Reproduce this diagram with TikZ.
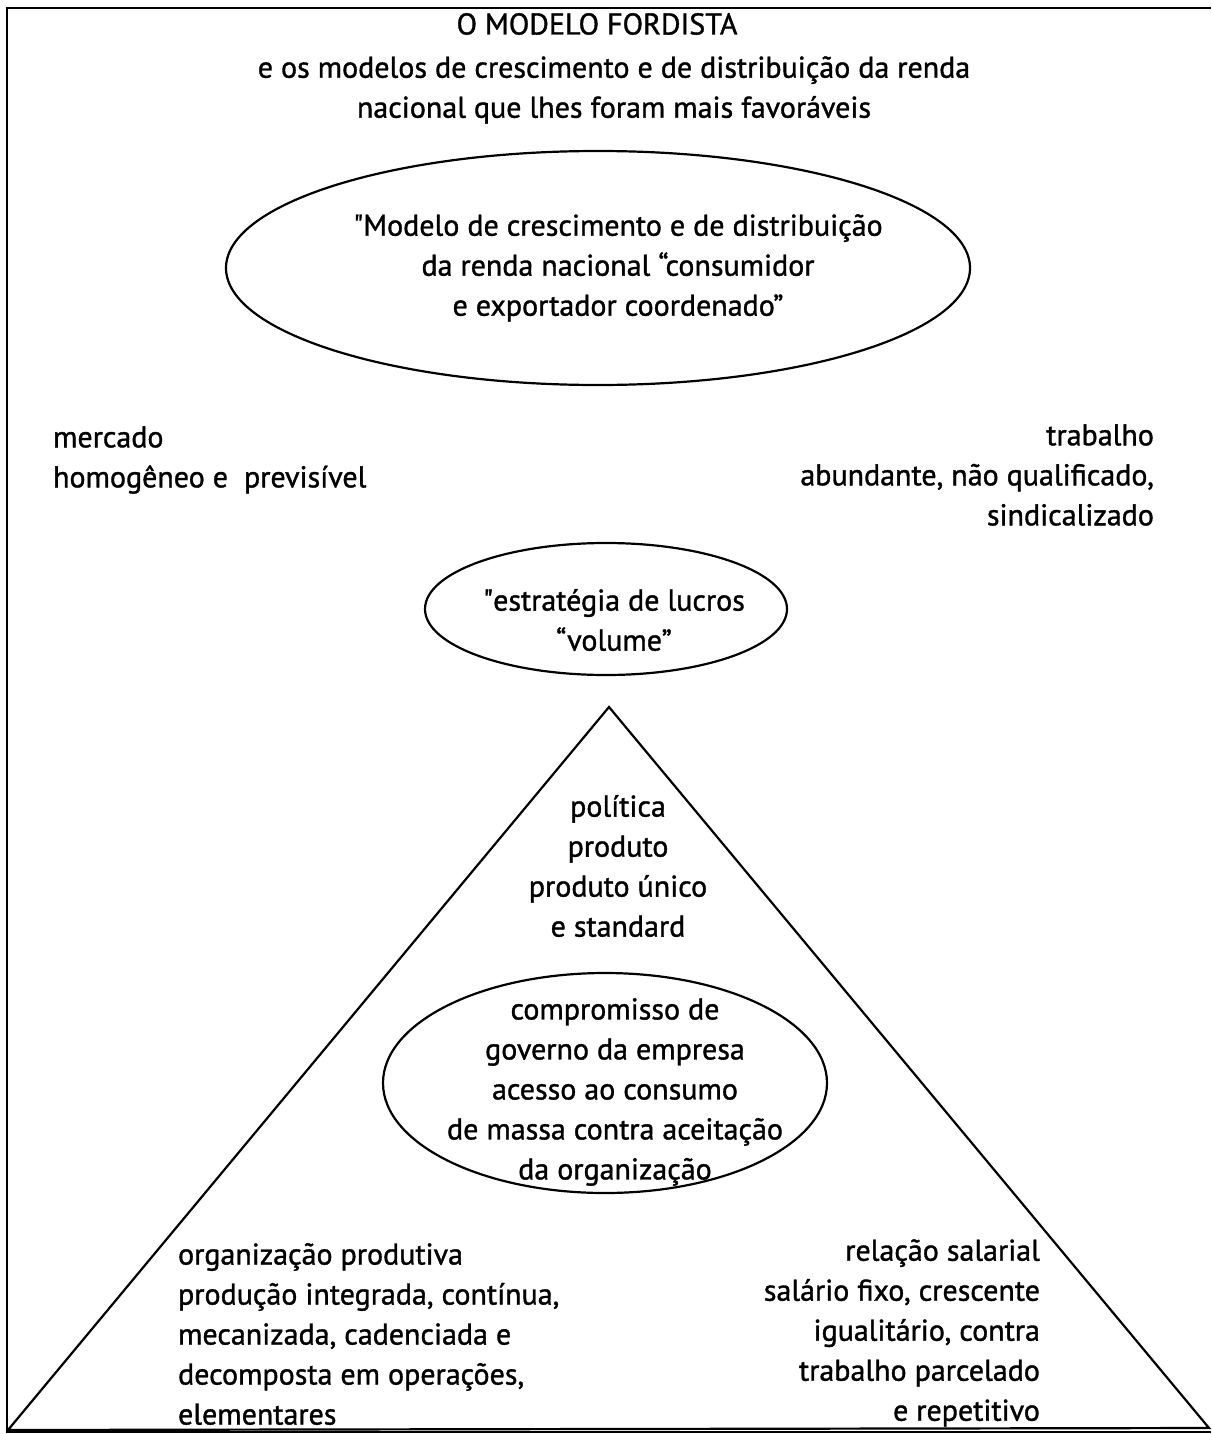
\documentclass[tikz,border=0pt]{standalone}
\usepackage{fontspec}
\setmainfont{PT Sans}[FakeBold=1.2]
\tikzset{
  txt/.style={font=\fontsize{15}{20}\selectfont, inner sep=0pt},
  oval/.style={draw, ellipse, line width=1.1pt, inner sep=0pt}
}
\usetikzlibrary{shapes.geometric}
\begin{document}
\begin{tikzpicture}[x=0.5pt, y=-0.5pt, line width=1.1pt]
  \useasboundingbox (0,0) rectangle (1211,1434);
  % moldura
  \draw[line width=1pt] (1211,8) -- (7,8) -- (7,1432) -- (1211,1432);
  % titulo
  \node[txt] (titulo) at (597,24) {O MODELO FORDISTA};
  \node[txt, align=center] (subtitulo) at (614,90) {e os modelos de crescimento e de distribuição da renda\\nacional que lhes foram mais favoráveis};
  % elipses
  \node[oval, minimum width=372pt, minimum height=117pt] (modelo) at (598,268) {};
  \node[txt, align=center] (modelotxt) at (618,268) {\textquotedbl Modelo de crescimento e de distribuição\\da renda nacional “consumidor\\e exportador coordenado”};
  \node[oval, minimum width=181pt, minimum height=66pt] (estrategia) at (606,609) {};
  \node[txt, align=center] (estrategiatxt) at (614,620) {\textquotedbl estratégia de lucros\\“volume”};
  % lados
  \node[txt, align=left, anchor=west] (mercado) at (52,460) {mercado\\homogêneo e\ \ previsível};
  \node[txt, align=right, anchor=east] (trabalho) at (1155,475) {trabalho\\abundante, não qualificado,\\sindicalizado};
  % triangulo
  \coordinate (T) at (609,707); \coordinate (L) at (8,1430); \coordinate (R) at (1209,1428);
  \draw (T) -- (L) -- (R) -- cycle;
  \node[txt, align=center] (politica) at (618,866) {política\\produto\\produto único\\e standard};
  \node[oval, minimum width=222pt, minimum height=110pt] (compromisso) at (605,1083) {};
  \node[txt, align=center] (compromissotxt) at (615,1092) {compromisso de\\governo da empresa\\acesso ao consumo\\de massa contra aceitação\\da organização};
  \node[txt, align=left, anchor=west] (organizacao) at (177,1334) {organização produtiva\\produção integrada, contínua,\\mecanizada, cadenciada e\\decomposta em operações,\\elementares};
  \node[txt, align=right, anchor=east] (salarial) at (1041,1333) {relação salarial\\salário fixo, crescente\\igualitário, contra\\trabalho parcelado\\e repetitivo};
\end{tikzpicture}
\end{document}
